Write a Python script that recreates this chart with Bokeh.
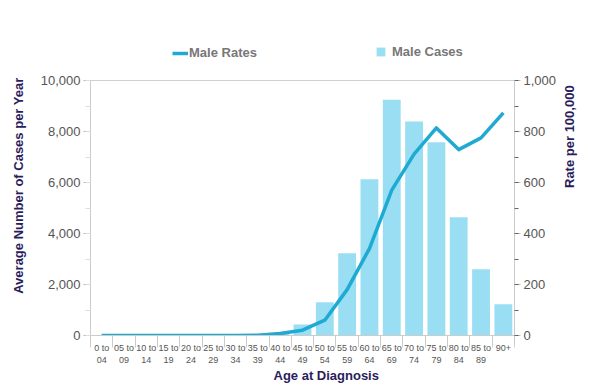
from bokeh.plotting import figure
from bokeh.models import (Range1d, LinearAxis, SingleIntervalTicker, FixedTicker, Grid, Title, Span,
                          NumeralTickFormatter, Legend, LegendItem, ColumnDataSource, LogScale)
from bokeh.embed import file_html
from bokeh.resources import INLINE
import math

# ---------------- data ----------------
age_groups = ["0 to\n04", "05 to\n09", "10 to\n14", "15 to\n19", "20 to\n24", "25 to\n29",
              "30 to\n34", "35 to\n39", "40 to\n44", "45 to\n49", "50 to\n54", "55 to\n59",
              "60 to\n64", "65 to\n69", "70 to\n74", "75 to\n79", "80 to\n84", "85 to\n89", "90+"]
male_cases = [0, 0, 0, 0, 0, 0, 1, 5, 60, 430, 1300, 3230, 6130, 9250, 8390, 7580, 4640, 2600, 1230]
male_rates = [0, 0, 0, 0, 0, 0, 0.2, 1, 8, 21, 60, 180, 341, 570, 711, 814, 729, 775, 873]
cases_ticks = [0, 2000, 4000, 6000, 8000, 10000]
rate_ticks = [0, 200, 400, 600, 800, 1000]

n = len(age_groups)
xs = [i + 0.5 for i in range(n)]
src = ColumnDataSource(dict(x=xs, cases=male_cases, rates=male_rates, age=age_groups))

TITLE_COLOR = "#2b1d5c"
TICK_COLOR = "#555555"
BAR_COLOR = "#9adef3"
LINE_COLOR = "#1eaad2"

# plot area 255 px tall for the data, frame extended 40 px upward to hold the legend
DATA_H, FRAME_H = 255, 295
ext = FRAME_H / DATA_H
p = figure(frame_width=424, frame_height=FRAME_H,
           min_border_left=88, min_border_right=74, min_border_top=40, min_border_bottom=46,
           x_range=Range1d(0, n), y_range=Range1d(cases_ticks[0], cases_ticks[-1] * ext),
           output_backend="svg", toolbar_location=None, x_axis_type=None, y_axis_type=None)
p.extra_y_ranges = {"rate": Range1d(rate_ticks[0], rate_ticks[-1] * ext)}
title_range = "rate"
if "extra_y_scales" in p.properties():
    # helper range/scale used only to place the right-hand title lower on the frame
    p.extra_y_ranges["title_pos"] = Range1d(4.3, 1)
    p.extra_y_scales = {"title_pos": LogScale()}
    title_range = "title_pos"
p.outline_line_color = None
p.background_fill_color = "white"
p.border_fill_color = "white"

# left axis
left = LinearAxis(ticker=SingleIntervalTicker(interval=2000, num_minor_ticks=2),
                  formatter=NumeralTickFormatter(format="0,0"),
                  bounds=(cases_ticks[0], cases_ticks[-1]))
left.axis_line_color = "#cccccc"
left.major_tick_out = 7
left.major_tick_in = 0
left.major_tick_line_color = "#bbbbbb"
left.minor_tick_out = 5
left.minor_tick_in = 0
left.minor_tick_line_color = "#dddddd"
left.major_label_text_font = "Liberation Sans"
left.major_label_text_font_size = "13px"
left.major_label_text_color = TICK_COLOR
left.major_label_standoff = 3
p.add_layout(left, "left")

# right axis
right = LinearAxis(y_range_name="rate",
                   ticker=SingleIntervalTicker(interval=200, num_minor_ticks=2),
                   formatter=NumeralTickFormatter(format="0,0"),
                   bounds=(rate_ticks[0], rate_ticks[-1]))
right.axis_line_color = "#cccccc"
right.major_tick_out = 6
right.major_tick_in = 0
right.major_tick_line_color = "#bbbbbb"
right.minor_tick_out = 4
right.minor_tick_in = 0
right.minor_tick_line_color = "#666666"
right.major_label_text_font = "Liberation Sans"
right.major_label_text_font_size = "13px"
right.major_label_text_color = TICK_COLOR
right.major_label_standoff = 3
p.add_layout(right, "right")

# right title carried by an empty axis
right_t = LinearAxis(y_range_name=title_range, ticker=FixedTicker(ticks=[]))
right_t.axis_line_color = None
right_t.major_tick_out = 0
right_t.major_tick_in = 0
right_t.minor_tick_out = 0
right_t.minor_tick_in = 0
right_t.major_label_standoff = 0
right_t.axis_label = "Rate per 100,000"
right_t.axis_label_text_font = "Liberation Sans"
right_t.axis_label_text_font_style = "bold"
right_t.axis_label_text_font_size = "13px"
right_t.axis_label_text_color = TITLE_COLOR
right_t.axis_label_text_align = "center"
right_t.axis_label_standoff = 10
if "axis_label_orientation" in right_t.properties():
    right_t.axis_label_orientation = math.pi / 2
p.add_layout(right_t, "right")

# bottom axis (labels at centres, separators at boundaries)
bottom = LinearAxis(ticker=FixedTicker(ticks=xs, minor_ticks=list(range(n + 1))))
bottom.major_label_overrides = {x: lab for x, lab in zip(xs, age_groups)}
bottom.axis_line_color = "#cccccc"
bottom.major_tick_out = 0
bottom.major_tick_in = 0
bottom.minor_tick_out = 12
bottom.minor_tick_in = 0
bottom.minor_tick_line_color = "#cccccc"
bottom.major_label_text_font = "Liberation Sans"
bottom.major_label_text_font_size = "9px"
bottom.major_label_text_color = TICK_COLOR
bottom.major_label_standoff = -5
p.add_layout(bottom, "below")

# grid
g = Grid(dimension=1, ticker=left.ticker, bounds=(0, n))
g.grid_line_color = "#e6e6e6"
g.minor_grid_line_color = "#f2f2f2"
p.add_layout(g)
p.add_layout(Span(location=cases_ticks[-1], dimension="width", line_color="#d0d0d0",
                  line_width=1))

bars = p.vbar(x="x", top="cases", width=0.8, source=src, fill_color=BAR_COLOR,
              line_color=None)
line = p.line(x="x", y="rates", source=src, y_range_name="rate", line_color=LINE_COLOR,
              line_width=3.5, line_join="round")

# legends (inside the extended frame, above the data area)
leg_common = dict(orientation="horizontal", padding=0, margin=0, border_line_color=None,
                  background_fill_alpha=0, label_text_font="Liberation Sans",
                  label_text_font_style="bold", label_text_font_size="13px",
                  label_text_color="#777777")
leg1 = Legend(items=[LegendItem(label="Male Rates", renderers=[line])],
              location=(82, 275), glyph_width=16, glyph_height=12, label_standoff=1, **leg_common)
leg2 = Legend(items=[LegendItem(label="Male Cases", renderers=[bars])],
              location=(285, 276), glyph_width=11, glyph_height=11, label_standoff=6, **leg_common)
p.add_layout(leg1, "center")
p.add_layout(leg2, "center")

# axis titles
tcommon = dict(text_font="Liberation Sans", text_font_style="bold", text_font_size="13px",
               text_color=TITLE_COLOR)
p.add_layout(Title(text="Average Number of Cases per Year", align="right", offset=37,
                   vertical_align="top", standoff=20, **tcommon), "left")
p.add_layout(Title(text="Age at Diagnosis", align="left", offset=183,
                   vertical_align="top", standoff=0, **tcommon), "below")

open("out.html", "w").write(file_html(p, INLINE))
